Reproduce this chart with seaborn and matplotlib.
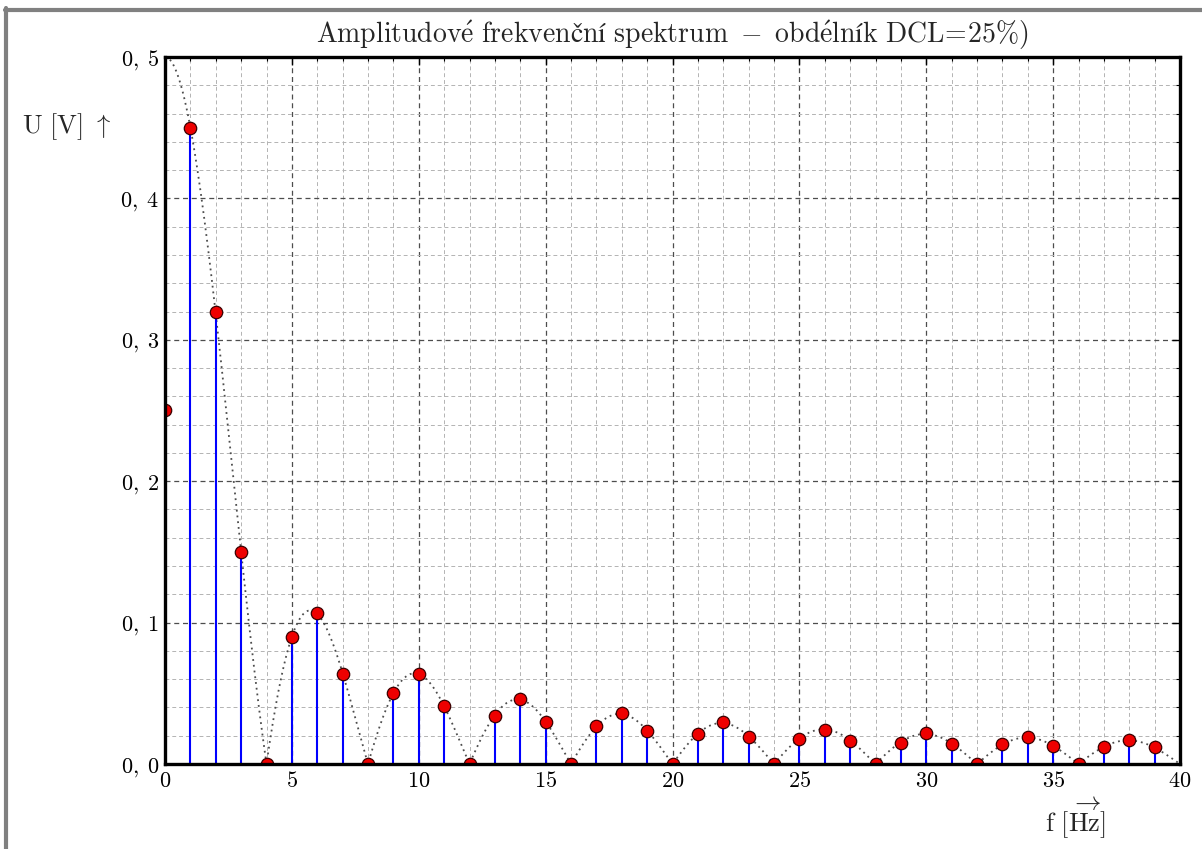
import numpy as np
import matplotlib
matplotlib.use("Agg")
import matplotlib.pyplot as plt
from matplotlib.lines import Line2D
from matplotlib.ticker import MultipleLocator, FixedLocator, FixedFormatter
import seaborn as sns

# Spectral lines of a rectangular pulse train (duty cycle 25 %)
freq = list(range(40))
amplitude = [0.25, 0.45, 0.32, 0.15, 0.0, 0.090, 0.107, 0.064, 0.0, 0.050,
             0.064, 0.041, 0.0, 0.034, 0.046, 0.030, 0.0, 0.027, 0.036, 0.023,
             0.0, 0.021, 0.030, 0.019, 0.0, 0.018, 0.024, 0.016, 0.0, 0.015,
             0.022, 0.014, 0.0, 0.014, 0.019, 0.013, 0.0, 0.012, 0.017, 0.012]
duty = 0.25

x_ticks = [0, 5, 10, 15, 20, 25, 30, 35, 40]
x_tick_labels = [r"$0$", r"$5$", r"$10$", r"$15$", r"$20$", r"$25$",
                 r"$30$", r"$35$", r"$40$"]
y_ticks = [0.0, 0.1, 0.2, 0.3, 0.4, 0.5]
y_tick_labels = [r"$0,\;0$", r"$0,\;1$", r"$0,\;2$", r"$0,\;3$",
                 r"$0,\;4$", r"$0,\;5$"]

title = (r"$\mathrm{Amplitudov\acute{e}\ frekvenční\ "
         r"spektrum\ -\ obd\acute{e}lník\ DCL\!=\!25\%)}$")
y_label = r"$\mathrm{U\ [V]\ \uparrow}$"
x_label = r"$\mathrm{f\ [\overrightarrow{\mathrm{Hz}}]}$"

sns.set_style("white")
plt.rcParams["mathtext.fontset"] = "cm"
plt.rcParams["font.family"] = ["DejaVu Serif"]

W, H = 1202, 849
fig = plt.figure(figsize=(W / 100, H / 100), dpi=100)
fig.patch.set_facecolor("white")
ax = fig.add_axes([165 / W, 1 - 764 / H, (1180 - 165) / W, (764 - 57) / H])

# sinc envelope of the line spectrum
f_env = np.linspace(0, 40, 1601)
env = np.abs(2 * duty * np.sinc(duty * f_env))
sns.lineplot(x=f_env, y=env, ax=ax, color="0.3", lw=1.3,
             linestyle=(0, (1, 2.2)), zorder=2)

# stems and heads
ax.vlines(freq, 0, amplitude, colors="#0000ff", lw=1.5, zorder=3)
sns.scatterplot(x=freq, y=amplitude, ax=ax, s=80, color="#ee0000",
                edgecolor="#3a0000", linewidth=0.9, zorder=4)

ax.set_xlim(0, 40)
ax.set_ylim(0, 0.5)
ax.xaxis.set_major_locator(FixedLocator(x_ticks))
ax.xaxis.set_major_formatter(FixedFormatter(x_tick_labels))
ax.yaxis.set_major_locator(FixedLocator(y_ticks))
ax.yaxis.set_major_formatter(FixedFormatter(y_tick_labels))
ax.xaxis.set_minor_locator(MultipleLocator(1))
ax.yaxis.set_minor_locator(MultipleLocator(0.02))

ax.grid(which="major", color="0.3", lw=0.9, linestyle=(0, (4, 3)))
ax.grid(which="minor", color="0.7", lw=0.7, linestyle=(0, (4, 3)))
ax.set_axisbelow(True)

ax.tick_params(which="both", direction="in", top=True, right=True,
               colors="black", labelsize=16)
ax.tick_params(which="major", length=6, width=1.0, pad=4)
ax.tick_params(which="minor", length=3, width=0.8)
for side in ax.spines.values():
    side.set_linewidth(2.4)
    side.set_color("black")
    side.set_zorder(5)

ax.set_title(title, fontsize=20, pad=10)
fig.text(22 / W, 1 - 127 / H, y_label, fontsize=19, ha="left", va="center")
fig.text(1075 / W, 1 - 818 / H, x_label, fontsize=19, ha="center",
         va="center")

# window frame
fig.add_artist(Line2D([5 / W, 1], [1 - 10 / H, 1 - 10 / H],
                      transform=fig.transFigure, color="#808080", lw=3))
fig.add_artist(Line2D([6 / W, 6 / W], [0, 1 - 8 / H],
                      transform=fig.transFigure, color="#808080", lw=3))

fig.savefig("out.png", dpi=100)
